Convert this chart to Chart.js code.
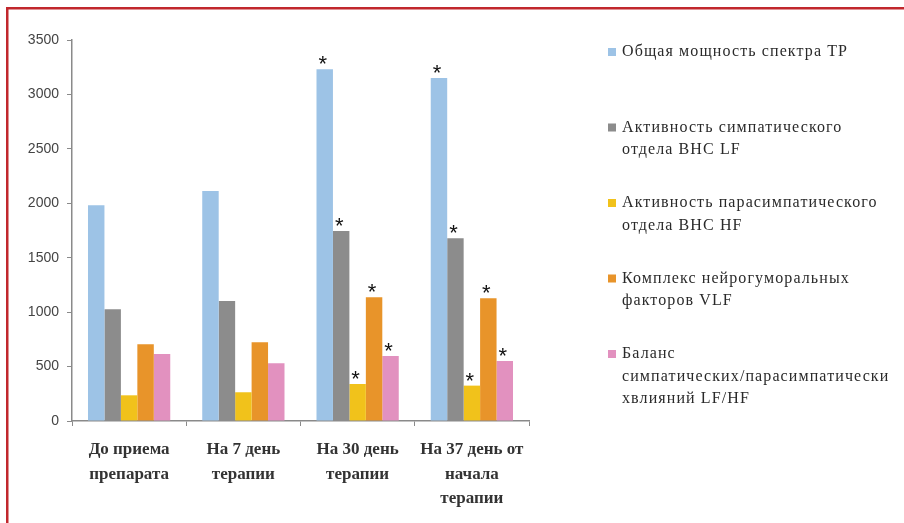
<!DOCTYPE html>
<html>
<head>
<meta charset="utf-8">
<script src="https://cdn.jsdelivr.net/npm/chart.js@4.4.1/dist/chart.umd.min.js"></script>
<style>
  html, body { margin: 0; padding: 0; background: #fff; }
  #wrap { width: 904px; height: 523px; position: relative; }
</style>
</head>
<body>
<div id="wrap"><canvas id="hrvChart" width="904" height="523"></canvas></div>
<script>
// Measurement points
const stages = [
    ['До приема', 'препарата'],
    ['На 7 день', 'терапии'],
    ['На 30 день', 'терапии'],
    ['На 37 день от', 'начала', 'терапии']
];

// Spectral HRV indices per stage
const totalPowerTP = [1983, 2114, 3232, 3150];
const sympatheticLF = [1027, 1103, 1746, 1679];
const parasympatheticHF = [236, 264, 340, 325];
const neurohumoralVLF = [705, 723, 1137, 1128];
const balanceLFHF = [616, 530, 597, 551];

// Stages marked with an asterisk (significant change)
const significant = [false, false, true, true];

const seriesNames = [
    ['Общая мощность спектра ТР'],
    ['Активность симпатического', 'отдела ВНС LF'],
    ['Активность парасимпатического', 'отдела ВНС HF'],
    ['Комплекс нейрогуморальных', 'факторов VLF'],
    ['Баланс', 'симпатических/парасимпатически', 'хвлияний LF/HF']
];
const seriesColors = ['#9dc3e6', '#8c8c8c', '#f1c21b', '#e8942a', '#e291bf'];

const yTicks = [0, 500, 1000, 1500, 2000, 2500, 3000, 3500];

const seriesValues = [totalPowerTP, sympatheticLF, parasympatheticHF, neurohumoralVLF, balanceLFHF];

// red frame around the figure
const framePlugin = {
    id: 'frame',
    beforeDraw(chart) {
        const ctx = chart.ctx;
        ctx.save();
        ctx.fillStyle = '#fff';
        ctx.fillRect(0, 0, chart.width, chart.height);
        ctx.fillStyle = '#c1272d';
        ctx.fillRect(6, 7, chart.width - 6, 2.5);
        ctx.fillRect(6, 7, 2.5, chart.height - 7);
        ctx.restore();
    }
};

// asterisks above the significant bars
const starPlugin = {
    id: 'stars',
    afterDatasetsDraw(chart) {
        const ctx = chart.ctx;
        ctx.save();
        ctx.fillStyle = '#111';
        ctx.font = '22px "Liberation Sans", sans-serif';
        ctx.textAlign = 'center';
        ctx.textBaseline = 'alphabetic';
        chart.data.datasets.forEach((ds, i) => {
            const meta = chart.getDatasetMeta(i);
            meta.data.forEach((bar, j) => {
                if (!significant[j]) return;
                ctx.fillText('*', bar.x - 2, bar.y + 2);
            });
        });
        ctx.restore();
    }
};

// legend on the right with wrapped labels
const sideLegendPlugin = {
    id: 'sideLegend',
    afterDraw(chart) {
        const ctx = chart.ctx;
        ctx.save();
        ctx.font = '16px "Liberation Serif", serif';
        ctx.letterSpacing = '1.1px';
        ctx.textBaseline = 'middle';
        ctx.textAlign = 'left';
        seriesNames.forEach((lines, i) => {
            const y0 = 52 + i * 75.5;
            ctx.fillStyle = seriesColors[i];
            ctx.fillRect(608, y0 - 4, 8, 8);
            ctx.fillStyle = '#2a2a2a';
            lines.forEach((line, k) => {
                ctx.fillText(line, 622, y0 + k * 22.5);
            });
        });
        ctx.restore();
    }
};

const ctx = document.getElementById('hrvChart').getContext('2d');
new Chart(ctx, {
    type: 'bar',
    data: {
        labels: stages,
        datasets: seriesValues.map((vals, i) => ({
            label: seriesNames[i].join(' '),
            data: vals,
            backgroundColor: seriesColors[i],
            borderWidth: 0,
            categoryPercentage: 0.72,
            barPercentage: 1.0
        }))
    },
    options: {
        responsive: false,
        animation: false,
        layout: { padding: { left: 0, top: 40, right: 375, bottom: 0 } },
        plugins: {
            legend: { display: false },
            tooltip: { enabled: false }
        },
        scales: {
            x: {
                grid: {
                    drawOnChartArea: false,
                    drawTicks: true,
                    tickLength: 5,
                    color: '#8a8a8a',
                    offset: true
                },
                border: { display: true, color: '#8a8a8a', width: 1.5 },
                ticks: {
                    color: '#333',
                    font: { family: '"Liberation Serif", serif', size: 17, weight: 'bold', lineHeight: 1.42 },
                    padding: 12,
                    maxRotation: 0,
                    autoSkip: false
                },
                afterFit(scale) { scale.height = 102; }
            },
            y: {
                min: 0,
                max: 3500,
                afterBuildTicks(scale) { scale.ticks = yTicks.map(v => ({ value: v })); },
                grid: {
                    drawOnChartArea: false,
                    drawTicks: true,
                    tickLength: 5,
                    color: '#8a8a8a'
                },
                border: { display: true, color: '#8a8a8a', width: 1.5 },
                ticks: {
                    color: '#444',
                    font: { family: '"Liberation Sans Narrow", "Liberation Sans", sans-serif', size: 14 },
                    padding: 8,
                    callback: v => String(v)
                },
                afterFit(scale) { scale.width = 72; }
            }
        }
    },
    plugins: [framePlugin, starPlugin, sideLegendPlugin]
});
</script>
</body>
</html>
